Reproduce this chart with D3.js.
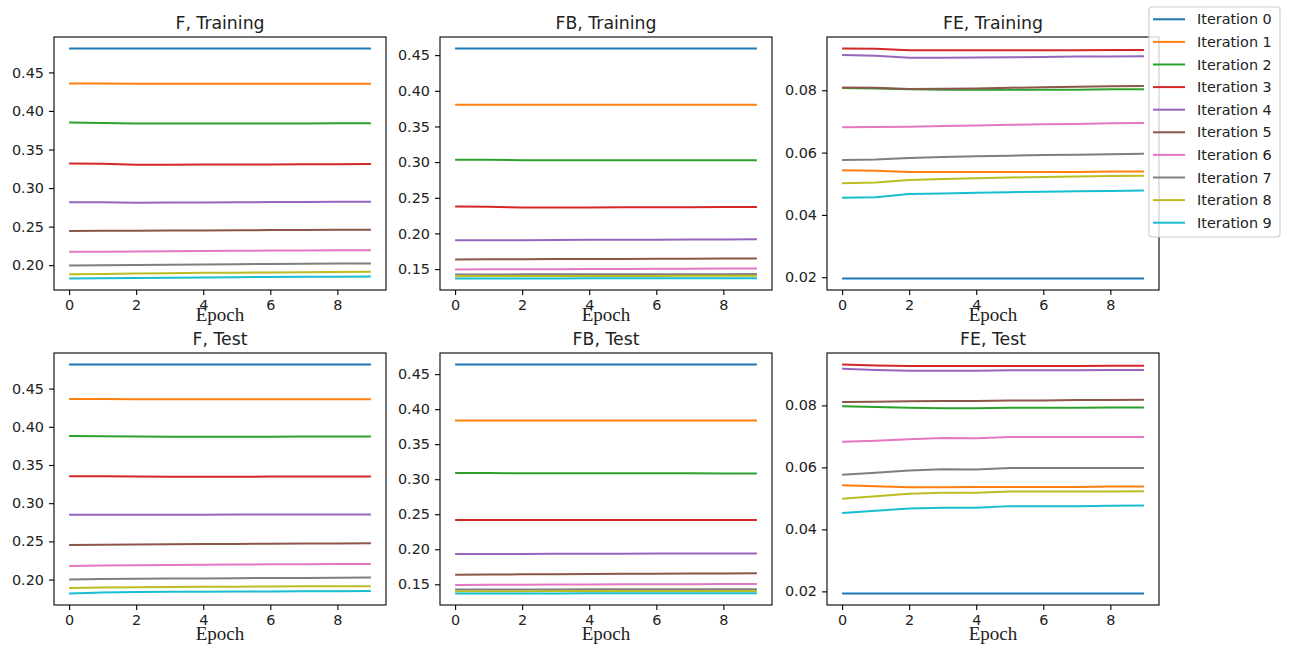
<!DOCTYPE html>
<html>
<head>
<meta charset="utf-8">
<script src="https://cdn.jsdelivr.net/npm/d3@7"></script>
<style>
  html, body { margin: 0; padding: 0; background: #fff; }
  svg { display: block; }
  text { font-family: "DejaVu Sans", sans-serif; fill: #222; }
</style>
</head>
<body>
<svg id="chart" width="1290" height="648"></svg>
<script>
// ---------------- DATA ----------------
const epochs = [0, 1, 2, 3, 4, 5, 6, 7, 8, 9];
const seriesNames = ["Iteration 0","Iteration 1","Iteration 2","Iteration 3","Iteration 4",
                     "Iteration 5","Iteration 6","Iteration 7","Iteration 8","Iteration 9"];
const xTicks = [0, 2, 4, 6, 8];
const yTicksF  = [0.20, 0.25, 0.30, 0.35, 0.40, 0.45];
const yTicksFB = [0.15, 0.20, 0.25, 0.30, 0.35, 0.40, 0.45];
const yTicksFE = [0.02, 0.04, 0.06, 0.08];

const fTrain = [
  [0.4810,0.4810,0.4809,0.4809,0.4809,0.4809,0.4809,0.4809,0.4809,0.4809],
  [0.4357,0.4356,0.4353,0.4353,0.4353,0.4353,0.4353,0.4353,0.4353,0.4353],
  [0.3849,0.3845,0.3836,0.3836,0.3837,0.3837,0.3838,0.3838,0.3839,0.3840],
  [0.3319,0.3316,0.3302,0.3303,0.3304,0.3305,0.3306,0.3308,0.3309,0.3311],
  [0.2816,0.2815,0.2811,0.2812,0.2814,0.2816,0.2818,0.2820,0.2822,0.2824],
  [0.2443,0.2445,0.2447,0.2449,0.2451,0.2453,0.2455,0.2457,0.2459,0.2460],
  [0.2173,0.2175,0.2178,0.2181,0.2184,0.2186,0.2189,0.2191,0.2193,0.2195],
  [0.1996,0.1999,0.2003,0.2006,0.2009,0.2012,0.2015,0.2018,0.2020,0.2022],
  [0.1883,0.1886,0.1892,0.1896,0.1900,0.1903,0.1906,0.1909,0.1911,0.1913],
  [0.1827,0.1829,0.1835,0.1838,0.1841,0.1844,0.1847,0.1849,0.1851,0.1853]
];
const fbTrain = [
  [0.4593,0.4593,0.4593,0.4593,0.4593,0.4593,0.4593,0.4593,0.4593,0.4593],
  [0.3804,0.3804,0.3804,0.3804,0.3804,0.3804,0.3804,0.3804,0.3804,0.3804],
  [0.3034,0.3032,0.3027,0.3026,0.3026,0.3025,0.3025,0.3025,0.3025,0.3025],
  [0.2377,0.2374,0.2364,0.2364,0.2365,0.2366,0.2367,0.2368,0.2369,0.2370],
  [0.1903,0.1904,0.1906,0.1908,0.1910,0.1911,0.1913,0.1914,0.1916,0.1917],
  [0.1635,0.1637,0.1639,0.1640,0.1642,0.1643,0.1645,0.1646,0.1648,0.1649],
  [0.1495,0.1496,0.1498,0.1499,0.1501,0.1502,0.1504,0.1505,0.1507,0.1508],
  [0.1424,0.1425,0.1426,0.1426,0.1427,0.1428,0.1428,0.1429,0.1429,0.1430],
  [0.1401,0.1402,0.1402,0.1403,0.1403,0.1404,0.1404,0.1405,0.1405,0.1405],
  [0.1368,0.1368,0.1369,0.1369,0.1370,0.1370,0.1370,0.1371,0.1371,0.1371]
];
const feTrain = [
  [0.0196,0.0196,0.0196,0.0196,0.0196,0.0196,0.0196,0.0196,0.0196,0.0196],
  [0.0543,0.0542,0.0538,0.0538,0.0538,0.0538,0.0538,0.0538,0.0539,0.0539],
  [0.0807,0.0806,0.0803,0.0802,0.0802,0.0802,0.0802,0.0802,0.0803,0.0803],
  [0.0934,0.0933,0.0928,0.0928,0.0928,0.0928,0.0928,0.0928,0.0929,0.0929],
  [0.0913,0.0911,0.0904,0.0904,0.0905,0.0906,0.0907,0.0908,0.0908,0.0909],
  [0.0809,0.0808,0.0804,0.0805,0.0806,0.0808,0.0810,0.0811,0.0813,0.0814],
  [0.0681,0.0682,0.0683,0.0685,0.0687,0.0689,0.0691,0.0692,0.0694,0.0695],
  [0.0576,0.0578,0.0583,0.0586,0.0588,0.0590,0.0592,0.0593,0.0595,0.0596],
  [0.0502,0.0504,0.0512,0.0515,0.0518,0.0520,0.0522,0.0523,0.0525,0.0526],
  [0.0455,0.0457,0.0467,0.0469,0.0471,0.0473,0.0474,0.0476,0.0477,0.0478]
];
const fTest = [
  [0.4816,0.4816,0.4816,0.4816,0.4816,0.4816,0.4816,0.4816,0.4816,0.4816],
  [0.4363,0.4363,0.4362,0.4362,0.4362,0.4362,0.4362,0.4362,0.4362,0.4362],
  [0.3880,0.3875,0.3872,0.3871,0.3871,0.3871,0.3871,0.3872,0.3872,0.3872],
  [0.3354,0.3351,0.3348,0.3347,0.3347,0.3347,0.3348,0.3348,0.3349,0.3350],
  [0.2849,0.2849,0.2849,0.2850,0.2850,0.2851,0.2851,0.2852,0.2852,0.2853],
  [0.2453,0.2456,0.2459,0.2462,0.2464,0.2466,0.2469,0.2471,0.2473,0.2475],
  [0.2179,0.2184,0.2188,0.2191,0.2194,0.2197,0.2199,0.2201,0.2203,0.2205],
  [0.2000,0.2006,0.2011,0.2013,0.2015,0.2018,0.2020,0.2022,0.2024,0.2026],
  [0.1888,0.1895,0.1900,0.1903,0.1905,0.1907,0.1909,0.1911,0.1912,0.1914],
  [0.1817,0.1830,0.1838,0.1840,0.1842,0.1844,0.1845,0.1847,0.1848,0.1849]
];
const fbTest = [
  [0.4638,0.4638,0.4638,0.4638,0.4638,0.4638,0.4638,0.4638,0.4638,0.4638],
  [0.3837,0.3837,0.3837,0.3837,0.3837,0.3837,0.3837,0.3837,0.3837,0.3837],
  [0.3088,0.3087,0.3086,0.3085,0.3085,0.3084,0.3084,0.3084,0.3083,0.3083],
  [0.2419,0.2418,0.2417,0.2417,0.2417,0.2418,0.2418,0.2418,0.2419,0.2419],
  [0.1931,0.1932,0.1933,0.1935,0.1936,0.1937,0.1938,0.1939,0.1940,0.1941],
  [0.1637,0.1640,0.1642,0.1645,0.1647,0.1649,0.1651,0.1653,0.1655,0.1656],
  [0.1490,0.1492,0.1494,0.1496,0.1497,0.1499,0.1500,0.1502,0.1503,0.1504],
  [0.1424,0.1425,0.1426,0.1427,0.1428,0.1428,0.1429,0.1429,0.1430,0.1430],
  [0.1400,0.1401,0.1402,0.1403,0.1403,0.1404,0.1404,0.1405,0.1405,0.1405],
  [0.1368,0.1369,0.1370,0.1370,0.1371,0.1371,0.1372,0.1372,0.1372,0.1372]
];
const feTest = [
  [0.0193,0.0193,0.0193,0.0193,0.0193,0.0193,0.0193,0.0193,0.0193,0.0193],
  [0.0542,0.0539,0.0536,0.0536,0.0537,0.0537,0.0537,0.0537,0.0538,0.0538],
  [0.0797,0.0795,0.0792,0.0791,0.0791,0.0792,0.0792,0.0792,0.0793,0.0793],
  [0.0932,0.0929,0.0927,0.0927,0.0927,0.0927,0.0927,0.0927,0.0928,0.0928],
  [0.0918,0.0914,0.0912,0.0912,0.0912,0.0913,0.0913,0.0913,0.0914,0.0914],
  [0.0811,0.0812,0.0813,0.0814,0.0814,0.0816,0.0816,0.0817,0.0817,0.0818],
  [0.0683,0.0686,0.0691,0.0695,0.0694,0.0698,0.0698,0.0698,0.0698,0.0698],
  [0.0576,0.0583,0.0590,0.0594,0.0593,0.0598,0.0598,0.0598,0.0598,0.0598],
  [0.0499,0.0507,0.0515,0.0518,0.0518,0.0522,0.0522,0.0522,0.0522,0.0523],
  [0.0453,0.0460,0.0467,0.0470,0.0470,0.0475,0.0475,0.0475,0.0476,0.0477]
];

const colors = ["#1f77b4","#ff7f0e","#2ca02c","#d62728","#9467bd",
                "#8c564b","#e377c2","#7f7f7f","#bcbd22","#17becf"];

// ---------------- LAYOUT ----------------
const panels = [
  { title: "F, Training",  data: fTrain,  yTicks: yTicksF,  col: 0, row: 0 },
  { title: "FB, Training", data: fbTrain, yTicks: yTicksFB, col: 1, row: 0 },
  { title: "FE, Training", data: feTrain, yTicks: yTicksFE, col: 2, row: 0 },
  { title: "F, Test",      data: fTest,   yTicks: yTicksF,  col: 0, row: 1 },
  { title: "FB, Test",     data: fbTest,  yTicks: yTicksFB, col: 1, row: 1 },
  { title: "FE, Test",     data: feTest,  yTicks: yTicksFE, col: 2, row: 1 }
];
const colX = [[54, 386], [440, 772], [827, 1159]];
const rowY = [[37, 290], [353, 605]];
const epochBaseline = [321, 640];

const svg = d3.select("#chart");
svg.append("rect").attr("width", 1290).attr("height", 648).attr("fill", "#fff");

const tickFont = 14.4;

panels.forEach(p => {
  const [x0, x1] = colX[p.col];
  const [y0, y1] = rowY[p.row];
  const all = p.data.flat();
  const mn = d3.min(all), mx = d3.max(all), pad = (mx - mn) * 0.05;
  const x = d3.scaleLinear().domain([-0.45, 9.45]).range([x0, x1]);
  const y = d3.scaleLinear().domain([mn - pad, mx + pad]).range([y1, y0]);

  const g = svg.append("g");

  const clipId = "clip" + p.col + p.row;
  g.append("clipPath").attr("id", clipId)
    .append("rect").attr("x", x0).attr("y", y0).attr("width", x1 - x0).attr("height", y1 - y0);

  const line = d3.line().x((d, i) => x(epochs[i])).y(d => y(d));
  g.append("g").attr("clip-path", `url(#${clipId})`)
    .selectAll("path").data(p.data).join("path")
    .attr("d", line)
    .attr("fill", "none")
    .attr("stroke", (d, i) => colors[i])
    .attr("stroke-width", 2)
    .attr("stroke-linejoin", "round")
    .attr("stroke-linecap", "butt");

  // axes
  const xAxis = d3.axisBottom(x).tickValues(xTicks).tickSize(5).tickPadding(5).tickFormat(d3.format("d"));
  const yAxis = d3.axisLeft(y).tickValues(p.yTicks).tickSize(5).tickPadding(5).tickFormat(d3.format(".2f"));

  const gx = g.append("g").attr("transform", `translate(0,${y1})`).call(xAxis);
  const gy = g.append("g").attr("transform", `translate(${x0},0)`).call(yAxis);
  [gx, gy].forEach(a => {
    a.select(".domain").remove();
    a.selectAll(".tick line").attr("stroke", "#000").attr("stroke-width", 1.1);
    a.selectAll(".tick text").attr("fill", "#222")
      .style("font-family", "'DejaVu Sans', sans-serif").style("font-size", tickFont + "px");
  });

  // frame
  g.append("rect").attr("x", x0).attr("y", y0).attr("width", x1 - x0).attr("height", y1 - y0)
    .attr("fill", "none").attr("stroke", "#000").attr("stroke-width", 1.1);

  // title
  g.append("text").attr("x", (x0 + x1) / 2).attr("y", y0 - 8)
    .attr("text-anchor", "middle").style("font-size", "17.3px").text(p.title);

  // x label
  g.append("text").attr("x", (x0 + x1) / 2).attr("y", epochBaseline[p.row])
    .attr("text-anchor", "middle")
    .style("font-family", "'Liberation Serif', 'DejaVu Serif', serif")
    .style("font-size", "19px").text("Epoch");
});

// ---------------- LEGEND ----------------
const lg = svg.append("g");
const lx = 1149, ly = 7, lw = 131, lh = 230;
lg.append("rect").attr("x", lx).attr("y", ly).attr("width", lw).attr("height", lh)
  .attr("rx", 3).attr("ry", 3)
  .attr("fill", "#fff").attr("fill-opacity", 0.8)
  .attr("stroke", "#cccccc").attr("stroke-width", 1.1);
const items = lg.selectAll("g.item").data(seriesNames).join("g")
  .attr("transform", (d, i) => `translate(0,${19.3 + i * 22.6})`);
items.append("line").attr("x1", 1153).attr("x2", 1185).attr("y1", 0).attr("y2", 0)
  .attr("stroke", (d, i) => colors[i]).attr("stroke-width", 2);
items.append("text").attr("x", 1197).attr("y", 0).attr("dy", "0.36em")
  .style("font-size", tickFont + "px").text(d => d);
</script>
</body>
</html>
